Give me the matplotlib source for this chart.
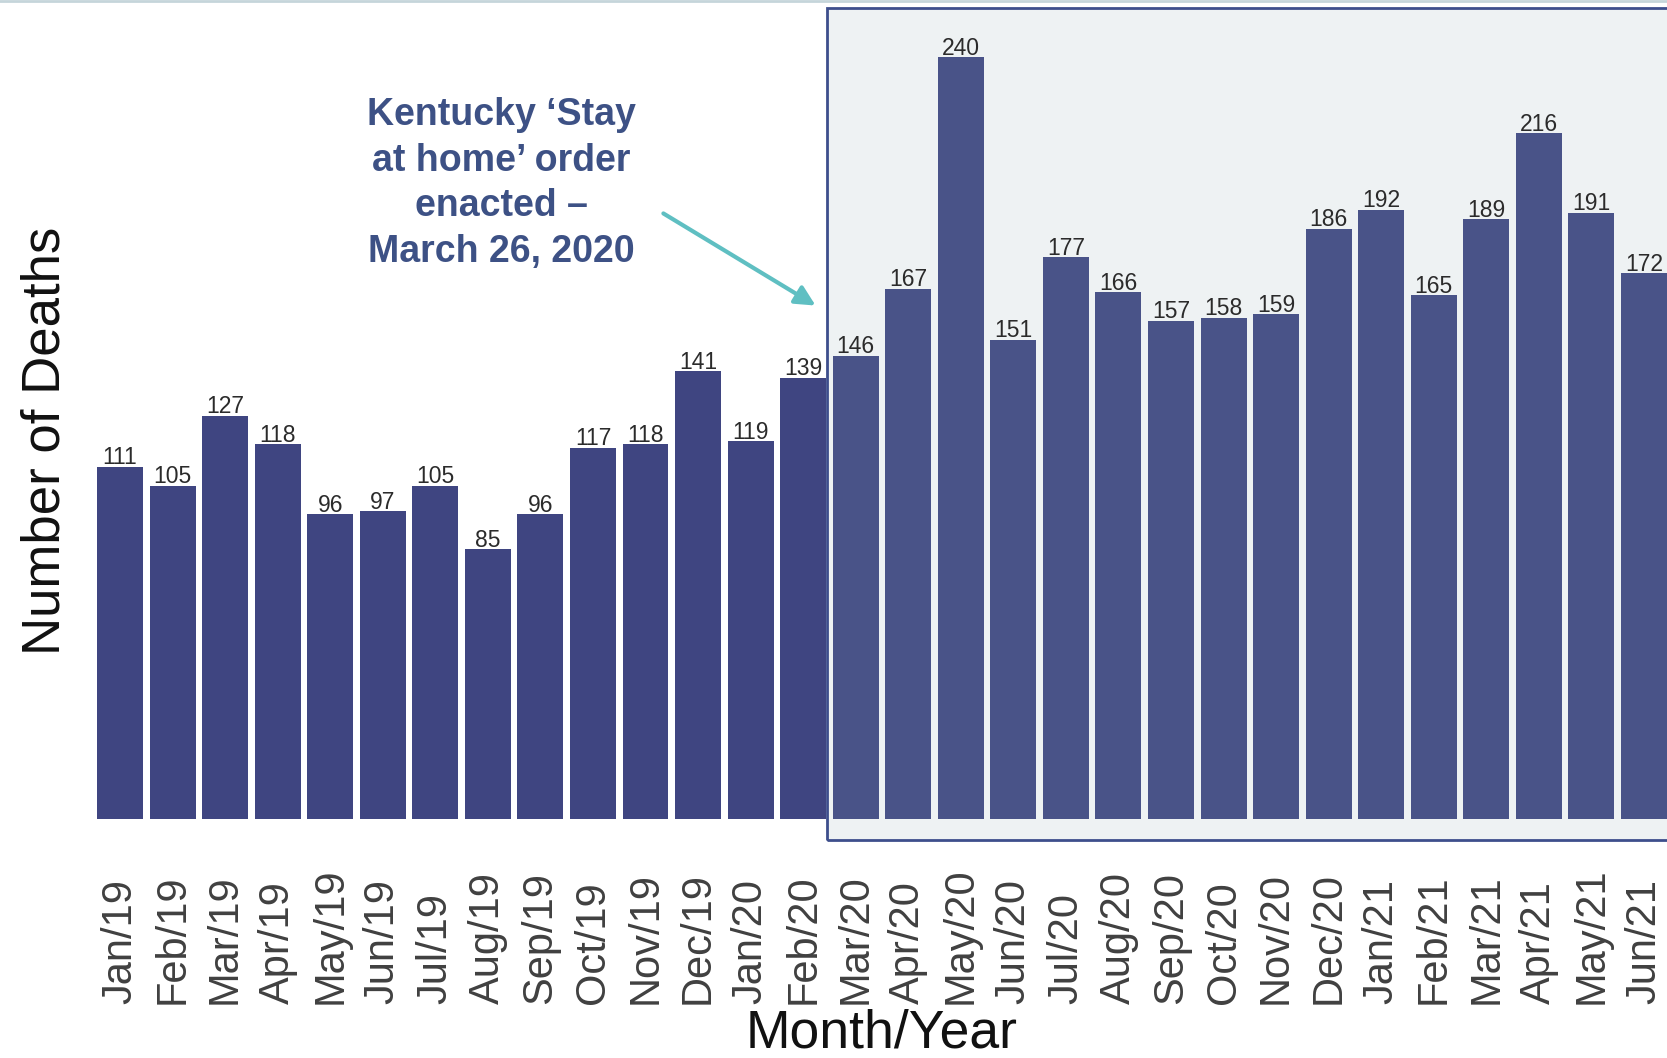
import numpy as np
import matplotlib.pyplot as plt
from matplotlib.patches import Rectangle, FancyArrowPatch
from matplotlib.lines import Line2D

months = ['Jan/19', 'Feb/19', 'Mar/19', 'Apr/19', 'May/19', 'Jun/19',
          'Jul/19', 'Aug/19', 'Sep/19', 'Oct/19', 'Nov/19', 'Dec/19',
          'Jan/20', 'Feb/20', 'Mar/20', 'Apr/20', 'May/20', 'Jun/20',
          'Jul/20', 'Aug/20', 'Sep/20', 'Oct/20', 'Nov/20', 'Dec/20',
          'Jan/21', 'Feb/21', 'Mar/21', 'Apr/21', 'May/21', 'Jun/21']
deaths = [111, 105, 127, 118, 96, 97, 105, 85, 96, 117, 118, 141,
          119, 139, 146, 167, 240, 151, 177, 166, 157, 158, 159, 186,
          192, 165, 189, 216, 191, 172]
order_month = 'Mar/20'   # first month after the stay at home order
note = "Kentucky \u2018Stay\nat home\u2019 order\nenacted \u2013\nMarch 26, 2020"

W, H = 1667, 1058
plt.rcParams['font.family'] = ['Liberation Sans', 'DejaVu Sans']

fig = plt.figure(figsize=(W / 100, H / 100), dpi=100)
# axes from first bar edge to right edge, baseline at y=819 px
ax = fig.add_axes([97 / W, 1 - 819 / H, 1 - 97 / W, 819 / H])
ax.set_facecolor('none')

x = np.arange(len(months))
bar_w = 0.875
ax.bar(x, deaths, width=bar_w, color='#3f4581', zorder=2)

ax.set_xlim(-bar_w / 2, -bar_w / 2 + (W - 97) / 52.55)
ax.set_ylim(0, 819 / 3.174)

# highlighted period after the order
start = months.index(order_month) - 0.5 - 0.04
box_fill = Rectangle((start, -6.6), 20, 262, facecolor='#8aa6b3', alpha=0.146,
                     edgecolor='none', zorder=3, clip_on=False)
ax.add_patch(box_fill)
box_edge = Rectangle((start, -6.6), 20, 262.1, facecolor='none',
                     edgecolor='#3d4e8c', linewidth=2.0, zorder=4, clip_on=False)
ax.add_patch(box_edge)

for xi, v in zip(x, deaths):
    ax.text(xi, v + 0.8, str(v), ha='center', va='baseline', fontsize=16.5,
            color='#2b2b2b', zorder=5)

ax.set_xticks(x)
ax.set_xticklabels(months, rotation=90, rotation_mode='anchor',
                   ha='left', va='center', fontsize=30, color='#404040')
ax.tick_params(axis='x', length=0, pad=(1004 - 819) * 0.72)
ax.set_yticks([])
for s in ax.spines.values():
    s.set_visible(False)

fig.text(60 / W, 1 - 441 / H, 'Number of Deaths', rotation=90,
         rotation_mode='anchor', ha='center', va='baseline', fontsize=38,
         color='#111111')
fig.text(882 / W, 1 - 1048 / H, 'Month/Year', ha='center', va='baseline',
         fontsize=38.5, color='#111111')

# annotation for the order
fig.text(501 / W, 1 - 97 / H, note, ha='center', va='top', fontsize=27,
         fontweight='bold', color='#3d5185', linespacing=1.34,
         multialignment='center')
arrow = FancyArrowPatch((661 / W, 1 - 212 / H), (818 / W, 1 - 307 / H),
                        transform=fig.transFigure, arrowstyle='-|>',
                        mutation_scale=30, color='#5fbfc2', linewidth=3)
fig.patches.append(arrow)

# thin line at the top of the slide
fig.add_artist(Line2D([0, 1], [1 - 1 / H, 1 - 1 / H], transform=fig.transFigure,
                      color='#c5d5da', linewidth=2))

fig.savefig('out.png', dpi=100)
